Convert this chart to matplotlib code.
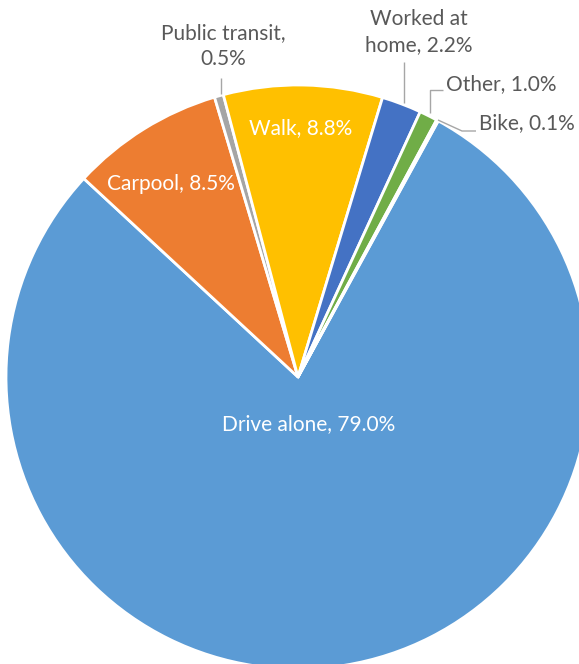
import matplotlib
matplotlib.use("Agg")
import matplotlib.pyplot as plt
import numpy as np

categories = ["Drive alone", "Carpool", "Public transit", "Walk", "Worked at home", "Other", "Bike"]
values = [79.0, 8.5, 0.5, 8.8, 2.2, 1.0, 0.1]
colors = ["#5B9BD5", "#ED7D31", "#A5A5A5", "#FFC000", "#4472C4", "#70AD47", "#255E91"]
label_texts = ["Drive alone, 79.0%", "Carpool, 8.5%", "Public transit,\n0.5%", "Walk, 8.8%",
               "Worked at\nhome, 2.2%", "Other, 1.0%", "Bike, 0.1%"]

W, H = 579, 664
fig = plt.figure(figsize=(W / 100, H / 100), dpi=100)
ax = fig.add_axes([0, 0, 1, 1])

def P(x, y):
    return (x, H - y)

cx, cy = P(298, 377)
R = 292
ax.pie(values, colors=colors, center=(cx, cy), radius=R, startangle=61.3, counterclock=False,
       wedgeprops=dict(edgecolor="white", linewidth=2), frame=True)
ax.set_xlim(0, W)
ax.set_ylim(0, H)
ax.set_aspect("equal")
ax.axis("off")

font = "Lato"
fs = 15
grey = "#595959"
line_c = "#A6A6A6"

# inside labels
for txt, (x, y) in [(label_texts[0], (309, 424)), (label_texts[1], (171, 184)), (label_texts[3], (301, 128))]:
    ax.text(*P(x, y), txt, color="white", fontsize=fs, family=font, ha="center", va="center")

# outside labels
ax.text(*P(223, 46), label_texts[2], color=grey, fontsize=fs, family=font, ha="center", va="center", linespacing=1.4)
ax.text(*P(419, 32), label_texts[4], color=grey, fontsize=fs, family=font, ha="center", va="center", linespacing=1.4)
ax.text(*P(446, 84), label_texts[5], color=grey, fontsize=fs, family=font, ha="left", va="center")
ax.text(*P(479, 123), label_texts[6], color=grey, fontsize=fs, family=font, ha="left", va="center")

# leader lines
def line(pts):
    xs, ys = zip(*[P(x, y) for x, y in pts])
    ax.plot(xs, ys, color=line_c, lw=1, solid_capstyle="butt")

line([(221, 78), (221, 94)])
line([(404, 62), (404, 103)])
line([(443, 90), (430, 90), (430, 113)])
line([(438, 120), (462, 131), (476, 131)])

fig.savefig("out.png", dpi=100)
